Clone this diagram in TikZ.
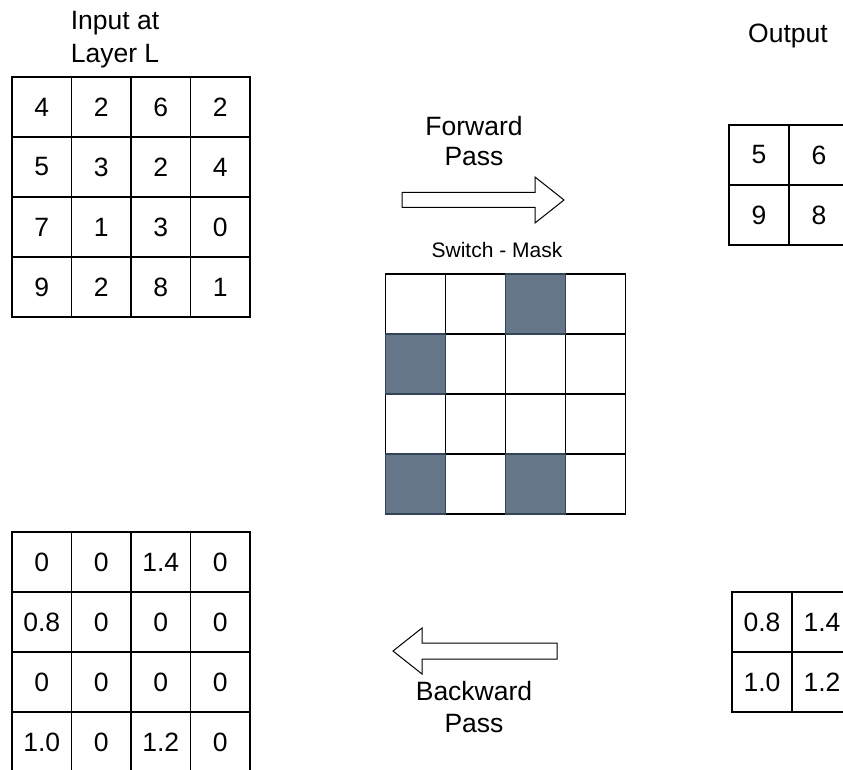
\documentclass[tikz,border=0pt]{standalone}
\usepackage{fontspec}
\setmainfont{Liberation Sans}
\definecolor{slatefill}{HTML}{647687}
\definecolor{slateline}{HTML}{314354}
\begin{document}
\begin{tikzpicture}[x=1pt,y=-1pt,
  cellbase/.style={draw=black, line width=1.3pt, inner sep=0pt, outer sep=0pt,
    minimum height=60pt, fill=white, font=\fontsize{26.5}{30}\selectfont},
  cellnarrow/.style={cellbase, minimum width=59.5pt},
  cellwide/.style={cellbase, minimum width=60pt},
  mw/.style={cellwide},
  md/.style={cellwide, fill=slatefill, draw=slateline},
  lbl/.style={font=\fontsize{26.5}{30}\selectfont, align=center, inner sep=0pt},
  smalllbl/.style={font=\fontsize{21}{24}\selectfont, inner sep=0pt},
  passarrow/.style={draw=black, line width=1pt, fill=white, line join=miter}]
\path[use as bounding box] (0,0) rectangle (843,770);
\clip (0,0) rectangle (843,770);

% input feature map
\node[lbl, font=\fontsize{26.5}{33}\selectfont] (inlbl) at (115,39.5) {Input at\\Layer L};
\foreach \row [count=\r from 0] in {{4,2,6,2},{5,3,2,4},{7,1,3,0},{9,2,8,1}}
  \foreach \v [count=\c from 0] in \row
    \node[cellnarrow] (in-\r-\c) at ({41.75+59.5*\c},{107+60*\r}) {\v};

% pooled output
\node[lbl, anchor=base] (outlbl) at (788,43) {Output};
\foreach \row [count=\r from 0] in {{5,6},{9,8}}
  \foreach \v [count=\c from 0] in \row
    \node[cellwide] (out-\r-\c) at ({759+60*\c},{155+60*\r}) {\v};

% forward pass arrow
\node[lbl] (fwdlbl) at (474,141) {Forward\\Pass};
\draw[passarrow] (402,192.5) -- (535,192.5) -- (535,177) -- (564,200)
  -- (535,223) -- (535,207.5) -- (402,207.5) -- cycle;

% switch mask
\node[smalllbl, anchor=base] (masklbl) at (497,257) {Switch - Mask};
\foreach \r/\c/\s in {0/0/mw,0/1/mw,0/3/mw,1/1/mw,1/2/mw,1/3/mw,
    2/0/mw,2/1/mw,2/2/mw,2/3/mw,3/1/mw,3/3/mw,0/2/md,1/0/md,3/0/md,3/2/md}
  \node[\s] (m-\r-\c) at ({415.5+60*\c},{304+60*\r}) {};

% gradient at the output
\foreach \row [count=\r from 0] in {{0.8,1.4},{1.0,1.2}}
  \foreach \v [count=\c from 0] in \row
    \node[cellwide] (gout-\r-\c) at ({762+60*\c},{622+60*\r}) {\v};

% backward pass arrow
\draw[passarrow] (557,643) -- (422,643) -- (422,628) -- (393,651)
  -- (422,674) -- (422,659) -- (557,659) -- cycle;
\node[lbl, font=\fontsize{26.5}{32}\selectfont] (bwdlbl) at (474,707) {Backward\\Pass};

% gradient routed back to the input
\foreach \row [count=\r from 0] in {{0,0,1.4,0},{0.8,0,0,0},{0,0,0,0},{1.0,0,1.2,0}}
  \foreach \v [count=\c from 0] in \row
    \node[cellnarrow] (gin-\r-\c) at ({41.75+59.5*\c},{562+60*\r}) {\v};
\end{tikzpicture}
\end{document}
